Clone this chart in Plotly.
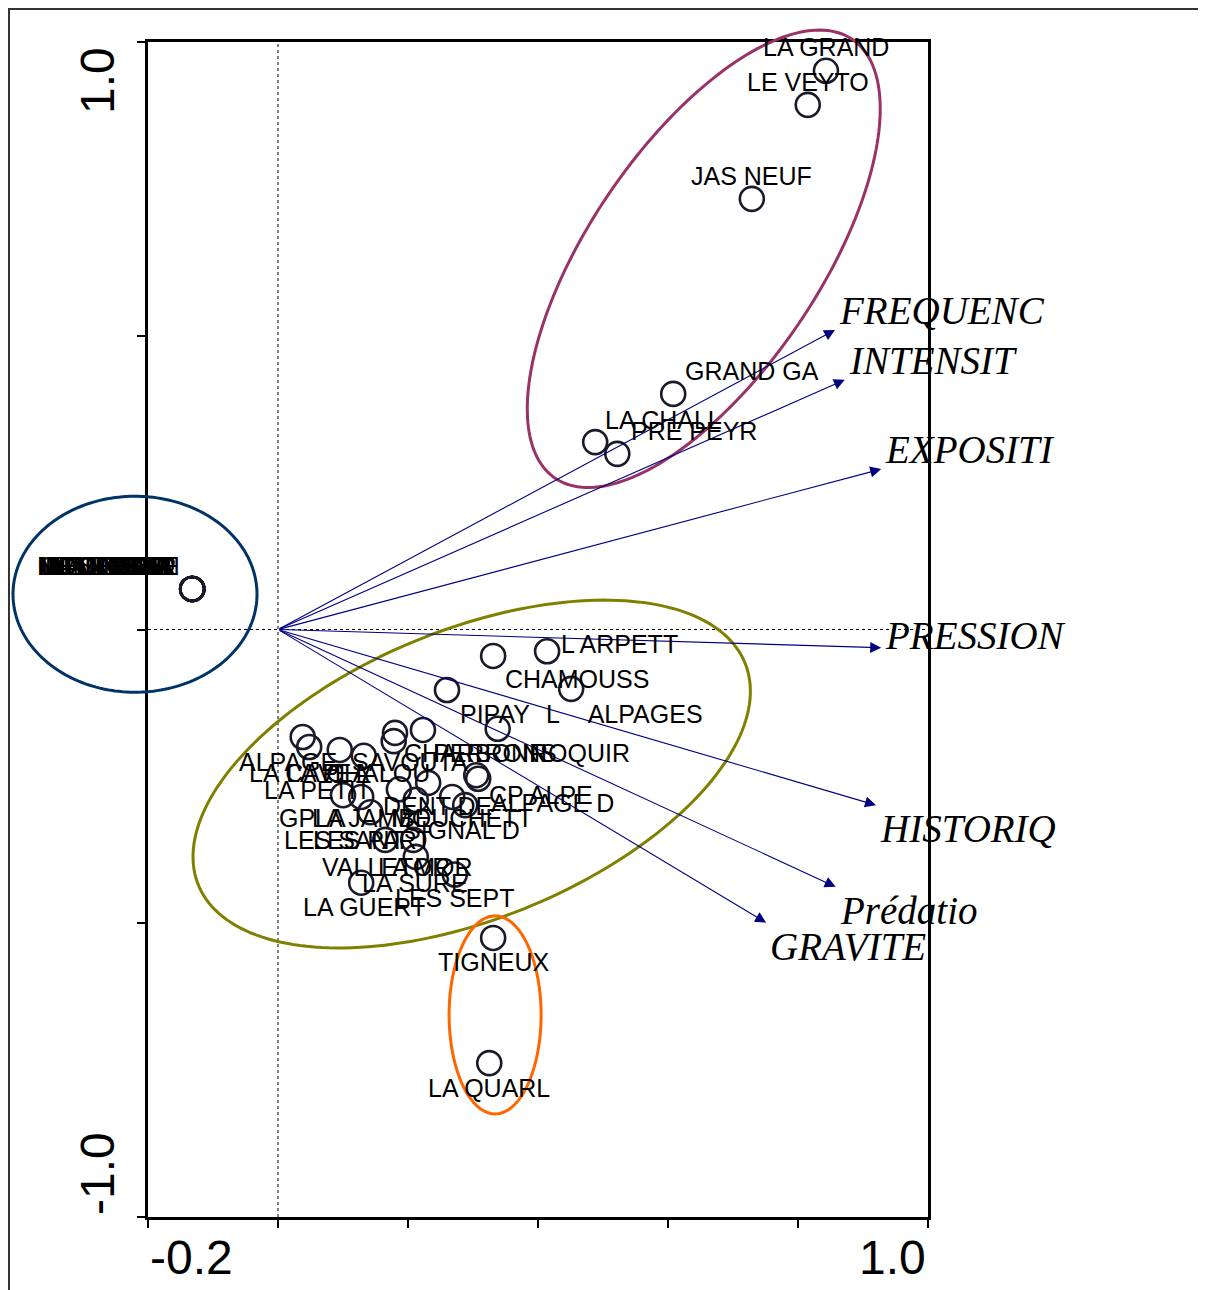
import numpy as np
import plotly.graph_objects as go

# ---------------- data ----------------
x_tick_vals = [-0.2, 0.0, 0.2, 0.4, 0.6, 0.8, 1.0]
y_tick_vals = [-1.0, -0.5, 0.0, 0.5, 1.0]
x_end_labels = ["-0.2", "1.0"]
y_end_labels = ["-1.0", "1.0"]

env_names = ["FREQUENC", "INTENSIT", "EXPOSITI", "PRESSION", "HISTORIQ", "Prédatio", "GRAVITE"]
env_x = [0.857, 0.872, 0.928, 0.928, 0.920, 0.858, 0.751]
env_y = [0.510, 0.425, 0.273, -0.031, -0.299, -0.438, -0.499]
# vertical nudge of each arrow label (pixels, + = up)
env_label_yshift = [-4, -4, -4, -11, 0, 0, 0]

site_names = [
    "LA GRAND", "LE VEYTO", "JAS NEUF", "GRAND GA", "LA CHALL", "PRE PEYR",
    "NANT BRU", "MOUTIERE", "LE CHARM", "COMBE NO", "LES ESSA", "MONT BAR", "COL DE L", "LA ROCHE",
    "LE BOUCH", "MEGEVETT", "LE MOLLA", "NOIR LAC",
    "L ARPETT", "CHAMOUSS", "PIPAY", "L\u00a0\u00a0\u00a0\u00a0ALPAGES", "CHARBONN", "PERRONS", "ROQUIR",
    "ALPAGE", "SAVOUTA", "LA CAVE", "LA PLA", "CHALOU", "LA PETIT", "DENT DE", "CP ALPE", "ALPAGE D",
    "GPLA", "LA JAMBE", "MOUCHETT", "SIGNAL D", "LES SANT", "LES PART", "VALLETOR", "LA MOR",
    "LA SURE", "LES SEPT", "LA GUERT", "TIGNEUX", "LA QUARL",
]
site_x = [
    0.843, 0.815, 0.729, 0.608, 0.488, 0.522,
    -0.132, -0.132, -0.132, -0.132, -0.132, -0.132, -0.132, -0.132,
    -0.132, -0.132, -0.132, -0.132,
    0.414, 0.451, 0.338, 0.331, 0.305, 0.308, 0.223,
    0.038, 0.180, 0.048, 0.095, 0.132, 0.100, 0.231, 0.268, 0.288,
    0.128, 0.186, 0.212, 0.142, 0.178, 0.165, 0.208, 0.260,
    0.212, 0.272, 0.128, 0.331, 0.325,
]
site_y = [
    0.951, 0.893, 0.733, 0.401, 0.319, 0.299,
    0.069, 0.069, 0.069, 0.069, 0.069, 0.069, 0.069, 0.069,
    0.069, 0.069, 0.069, 0.069,
    -0.037, -0.101, -0.169, -0.045, -0.248, -0.254, -0.171,
    -0.183, -0.176, -0.200, -0.205, -0.215, -0.282, -0.261, -0.285, -0.299,
    -0.285, -0.272, -0.290, -0.311, -0.190, -0.358, -0.358, -0.103,
    -0.387, -0.417, -0.431, -0.525, -0.738,
]
# label offsets from the point (pixels, +x right, +y down)
label_dx = [
    0, 0, 0, 79, 68, 77,
    -91, -89, -87, -85, -83, -81, -79, -77,
    -76, -84, -80, -86,
    72, 6, -3, 131, -1, 17, 157,
    -15, 15, -9, -12, 14, -26, 9, 89, 87,
    -49, -27, 46, 92, -49, -13, -27, -22,
    -1, 0, 3, 0, 0,
]
label_dy = [
    -24, -23, -23, -23, -22, -23,
    -23, -23, -23, -23, -23, -23, -23, -23,
    -23, -23, -23, -23,
    -7, -10, -15, 58, -22, -26, 23,
    25, 29, 26, 23, 17, -5, 23, -2, -2,
    21, 29, 18, 18, 99, 0, 27, 177,
    26, 24, 24, 24, 25,
]

# ---------------- geometry ----------------
# page body has an 8px margin; the figure is sized so the page matches 1206x1290
W, H = 1198, 1282
ML, MT = 140, 34
PW, PH = 780, 1175
MR, MB = W - ML - PW, H - MT - PH
XR, YR = [-0.2, 1.0], [-1.0, 1.0]
sx = PW / (XR[1] - XR[0])
sy = PH / (YR[1] - YR[0])


def ellipse_path(cx, cy, a, b, theta_deg, n=200):
    """cx, cy in data units; a, b semi-axes in pixels; path in paper coords"""
    px0 = (cx - XR[0]) * sx
    py0 = (cy - YR[0]) * sy
    th = np.radians(theta_deg)
    t = np.linspace(0, 2 * np.pi, n)
    px = px0 + a * np.cos(th) * np.cos(t) - b * np.sin(th) * np.sin(t)
    py = py0 + a * np.sin(th) * np.cos(t) + b * np.cos(th) * np.sin(t)
    xs, ys = px / PW, py / PH
    return "M " + " L ".join(f"{u:.5f},{v:.5f}" for u, v in zip(xs, ys)) + " Z"


ellipses = [
    (0.655, 0.631, 265, 115, 55.9, "#993366"),
    (-0.220, 0.060, 122, 98, 0.0, "#003366"),
    (0.298, -0.246, 295, 144.5, 22.1, "#808000"),
    (0.334, -0.656, 46, 99, 0.0, "#FF6600"),
]

fig = go.Figure()

fig.add_trace(go.Scatter(
    x=site_x, y=site_y, mode="markers",
    marker=dict(symbol="circle-open", size=24, color="#1a1a2a", line=dict(width=2.6)),
    hoverinfo="text", text=site_names, showlegend=False, cliponaxis=False,
))

shapes = []
shapes.append(dict(type="line", xref="x", yref="y", x0=0, x1=0, y0=YR[0], y1=YR[1],
                   line=dict(color="black", width=1, dash="dot"), layer="below"))
shapes.append(dict(type="line", xref="x", yref="y", x0=XR[0], x1=XR[1], y0=0, y1=0,
                   line=dict(color="black", width=1, dash="dot"), layer="below"))
for cx, cy, a, b, th, col in ellipses:
    shapes.append(dict(type="path", xref="paper", yref="paper", path=ellipse_path(cx, cy, a, b, th),
                       line=dict(color=col, width=3), layer="above"))
# outer frame (left and top edges visible)
shapes.append(dict(type="rect", xref="paper", yref="paper",
                   x0=(1 - ML) / PW, x1=(W + 20 - ML) / PW,
                   y0=(H - MB - H - 20) / PH, y1=(H - MB - 1) / PH,
                   line=dict(color="#333333", width=2)))

annotations = []
for nm, ex, ey, ys in zip(env_names, env_x, env_y, env_label_yshift):
    annotations.append(dict(x=ex, y=ey, ax=0, ay=0, xref="x", yref="y", axref="x", ayref="y",
                            showarrow=True, arrowhead=2, arrowsize=2.0, arrowwidth=1.1,
                            arrowcolor="#000080", standoff=0, startstandoff=0, text=""))
    annotations.append(dict(x=ex, y=ey, xref="x", yref="y", showarrow=False,
                            text=f"<i>{nm}</i>", xanchor="left",
                            yanchor="bottom" if ey > -0.1 else "top",
                            xshift=2, yshift=ys,
                            font=dict(family="Liberation Serif, Times New Roman, serif", size=39, color="black")))
for nm, sxv, syv, dx, dy in zip(site_names, site_x, site_y, label_dx, label_dy):
    annotations.append(dict(x=sxv, y=syv, xref="x", yref="y", showarrow=False, text=nm,
                            xshift=dx, yshift=-dy, xanchor="center", yanchor="middle",
                            font=dict(family="Liberation Sans, Arial, sans-serif", size=25, color="black")))
tick_font = dict(family="Liberation Sans, Arial, sans-serif", size=48, color="black")
annotations.append(dict(x=x_tick_vals[0], y=0, xref="x", yref="paper", showarrow=False,
                        text=x_end_labels[0], xanchor="left", yanchor="top", yshift=-12, font=tick_font))
annotations.append(dict(x=x_tick_vals[-1], y=0, xref="x", yref="paper", showarrow=False,
                        text=x_end_labels[1], xanchor="right", yanchor="top", yshift=-12, font=tick_font))
annotations.append(dict(x=0, y=y_tick_vals[-1], xref="paper", yref="y", showarrow=False,
                        text=y_end_labels[1], textangle=-90, xanchor="right", yanchor="top", xshift=-22,
                        yshift=-3, font=tick_font))
annotations.append(dict(x=0, y=y_tick_vals[0], xref="paper", yref="y", showarrow=False,
                        text=y_end_labels[0], textangle=-90, xanchor="right", yanchor="bottom", xshift=-22,
                        font=tick_font))

axis_common = dict(showgrid=False, zeroline=False, showline=True, linecolor="black", linewidth=3,
                   mirror=True, ticks="outside", ticklen=8, tickwidth=2, tickcolor="black",
                   showticklabels=False)
fig.update_layout(
    width=W, height=H, margin=dict(l=ML, r=MR, t=MT, b=MB, pad=0),
    paper_bgcolor="white", plot_bgcolor="white",
    xaxis=dict(range=XR, tickvals=x_tick_vals, **axis_common),
    yaxis=dict(range=YR, tickvals=y_tick_vals, **axis_common),
    shapes=shapes, annotations=annotations, showlegend=False,
)

fig.write_html("out.html")
